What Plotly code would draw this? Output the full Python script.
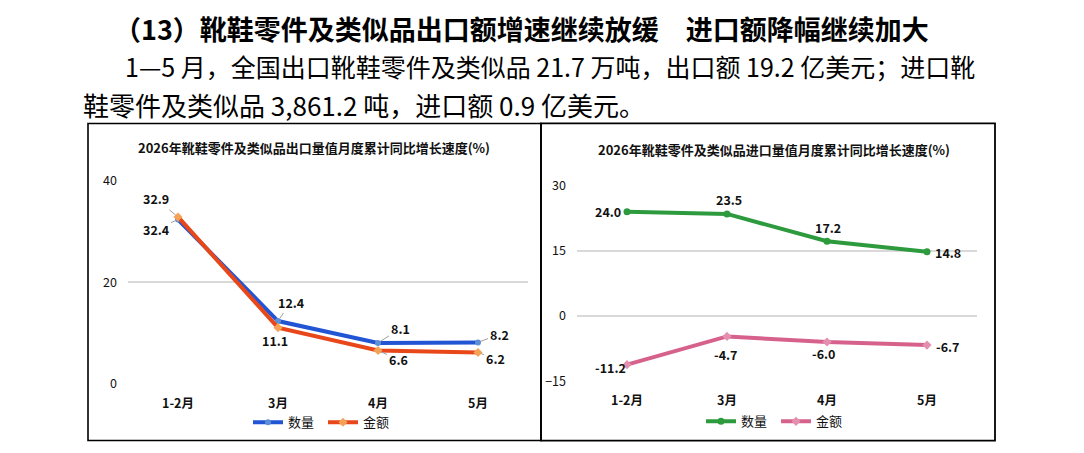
import plotly.graph_objects as go

W, H = 1084, 453

# ---- data ----
categories = ["1-2月", "3月", "4月", "5月"]
export_qty = [32.4, 12.4, 8.1, 8.2]
export_val = [32.9, 11.1, 6.6, 6.2]
import_qty = [24.0, 23.5, 17.2, 14.8]
import_val = [-11.2, -4.7, -6.0, -6.7]
series_names = ["数量", "金额"]
left_title = "2026年靴鞋零件及类似品出口量值月度累计同比增长速度(%)"
right_title = "2026年靴鞋零件及类似品进口量值月度累计同比增长速度(%)"
left_ticks = [0, 20, 40]
right_ticks = [-15, 0, 15, 30]
heading = "（13）靴鞋零件及类似品出口额增速继续放缓　进口额降幅继续加大"
para_line1 = "1—5 月，全国出口靴鞋零件及类似品 21.7 万吨，出口额 19.2 亿美元；进口靴"
para_line2 = "鞋零件及类似品 3,861.2 吨，进口额 0.9 亿美元。"

# ---- helpers (screen pixel -> paper); page body has an 8px margin ----
OFF = 8


def X(px):
    return (px - OFF) / W


def Y(py):
    return 1 - (py - OFF) / H


CJK = "Noto Sans CJK SC"
BLUE, ORANGE = "#2155d4", "#e8471a"
GREEN, PINK = "#2e9a3e", "#d6628c"

fig = go.Figure()

fig.add_trace(go.Scatter(
    x=categories, y=export_qty, name=series_names[0], mode="lines+markers",
    line=dict(color=BLUE, width=4), marker=dict(symbol="circle", size=6, color="#5d8fd6"),
    xaxis="x", yaxis="y", legend="legend"))
fig.add_trace(go.Scatter(
    x=categories, y=export_val, name=series_names[1], mode="lines+markers",
    line=dict(color=ORANGE, width=4), marker=dict(symbol="diamond", size=7, color="#f6a256"),
    xaxis="x", yaxis="y", legend="legend"))
fig.add_trace(go.Scatter(
    x=categories, y=import_qty, name=series_names[0], mode="lines+markers",
    line=dict(color=GREEN, width=4), marker=dict(symbol="circle", size=7, color=GREEN),
    xaxis="x2", yaxis="y2", legend="legend2"))
fig.add_trace(go.Scatter(
    x=categories, y=import_val, name=series_names[1], mode="lines+markers",
    line=dict(color=PINK, width=4), marker=dict(symbol="diamond", size=7, color="#e58fb0"),
    xaxis="x2", yaxis="y2", legend="legend2"))

tickfont = dict(family=CJK, size=12.5, color="#111")
axis_common = dict(showline=False, zeroline=False, ticks="", tickfont=tickfont,
                   tickprefix="<b>", ticksuffix="</b>")
legfont = dict(family=CJK, size=13, color="#111")

fig.update_layout(
    width=W, height=H, margin=dict(l=0, r=0, t=0, b=0),
    paper_bgcolor="white", plot_bgcolor="white",
    font=dict(family=CJK, color="#111"),
    xaxis=dict(domain=[X(128), X(528)], anchor="y", type="category",
               range=[-0.5, 3.5], showgrid=False, ticklabelstandoff=10, **axis_common),
    yaxis=dict(domain=[Y(389), Y(177)], anchor="x", range=[0, 40], tickvals=left_ticks,
               showgrid=True, gridcolor="#d9d9d9", gridwidth=1.5, ticklabelstandoff=10, **axis_common),
    xaxis2=dict(domain=[X(577), X(977)], anchor="y2", type="category",
                range=[-0.5, 3.5], showgrid=False, ticklabelstandoff=10, **axis_common),
    yaxis2=dict(domain=[Y(386), Y(182)], anchor="x2", range=[-15, 30], tickvals=right_ticks,
                showgrid=True, gridcolor="#d9d9d9", gridwidth=1.5, ticklabelstandoff=10, **axis_common),
    legend=dict(orientation="h", x=X(248), y=Y(429), xanchor="left", yanchor="middle",
                entrywidth=30, entrywidthmode="pixels", font=legfont, bgcolor="rgba(0,0,0,0)"),
    legend2=dict(orientation="h", x=X(701), y=Y(428), xanchor="left", yanchor="middle",
                 entrywidth=30, entrywidthmode="pixels", font=legfont, bgcolor="rgba(0,0,0,0)"),
)

# panel borders
fig.add_shape(type="rect", xref="paper", yref="paper", x0=X(88), x1=X(541), y0=Y(448), y1=Y(117),
              line=dict(color="black", width=1.6))
fig.add_shape(type="rect", xref="paper", yref="paper", x0=X(541), x1=X(995), y0=Y(448), y1=Y(117),
              line=dict(color="black", width=1.8))

ann = []
# heading & paragraph
ann.append(dict(text="<b>" + heading + "</b>", x=X(112), y=Y(18), xref="paper", yref="paper",
                xanchor="left", yanchor="middle", showarrow=False,
                font=dict(family=CJK, size=27, color="black")))
ann.append(dict(text=para_line1, x=X(123), y=Y(57), xref="paper", yref="paper",
                xanchor="left", yanchor="middle", showarrow=False,
                font=dict(family=CJK, size=25, color="black")))
ann.append(dict(text=para_line2, x=X(81), y=Y(97), xref="paper", yref="paper",
                xanchor="left", yanchor="middle", showarrow=False,
                font=dict(family=CJK, size=26, color="black")))
# chart titles
ann.append(dict(text="<b>" + left_title + "</b>", x=X(314), y=Y(142), xref="paper", yref="paper",
                xanchor="center", yanchor="middle", showarrow=False,
                font=dict(family=CJK, size=13, color="#111")))
ann.append(dict(text="<b>" + right_title + "</b>", x=X(774), y=Y(144), xref="paper", yref="paper",
                xanchor="center", yanchor="middle", showarrow=False,
                font=dict(family=CJK, size=13, color="#111")))

lblfont = dict(family=CJK, size=12.5, color="#111")

# left chart labels with leader lines (offsets in px: label centre minus point)
left_qty_off = [(-22, 10), (13, -19), (22, -14), (21, -8)]
left_val_off = [(-22, -18), None, (20, 9), (17, 6)]
left_val_shift = {1: (-3, -13)}
for i, c in enumerate(categories):
    dx, dy = left_qty_off[i]
    ann.append(dict(text=f"<b>{export_qty[i]:.1f}</b>", x=c, y=export_qty[i], xref="x", yref="y",
                    ax=dx, ay=dy, showarrow=True, arrowhead=0, arrowwidth=1, arrowcolor="#a0a0a0",
                    standoff=3, font=lblfont))
    if left_val_off[i] is not None:
        dx, dy = left_val_off[i]
        ann.append(dict(text=f"<b>{export_val[i]:.1f}</b>", x=c, y=export_val[i], xref="x", yref="y",
                        ax=dx, ay=dy, showarrow=True, arrowhead=0, arrowwidth=1, arrowcolor="#a0a0a0",
                        standoff=3, font=lblfont))
    else:
        sx, sy = left_val_shift[i]
        ann.append(dict(text=f"<b>{export_val[i]:.1f}</b>", x=c, y=export_val[i], xref="x", yref="y",
                        xshift=sx, yshift=sy, showarrow=False, font=lblfont))

# right chart labels
right_qty_shift = [(-19, 0), (2, 14), (1, 14), (21, -1)]
right_val_shift = [(-17, -3), (-2, -18), (-4, -11), (20, -1)]
for i, c in enumerate(categories):
    sx, sy = right_qty_shift[i]
    ann.append(dict(text=f"<b>{import_qty[i]:.1f}</b>", x=c, y=import_qty[i], xref="x2", yref="y2",
                    xshift=sx, yshift=sy, showarrow=False, font=lblfont))
    sx, sy = right_val_shift[i]
    ann.append(dict(text=f"<b>{import_val[i]:.1f}</b>", x=c, y=import_val[i], xref="x2", yref="y2",
                    xshift=sx, yshift=sy, showarrow=False, font=lblfont))

fig.update_layout(annotations=ann)

fig.write_html("out.html")
